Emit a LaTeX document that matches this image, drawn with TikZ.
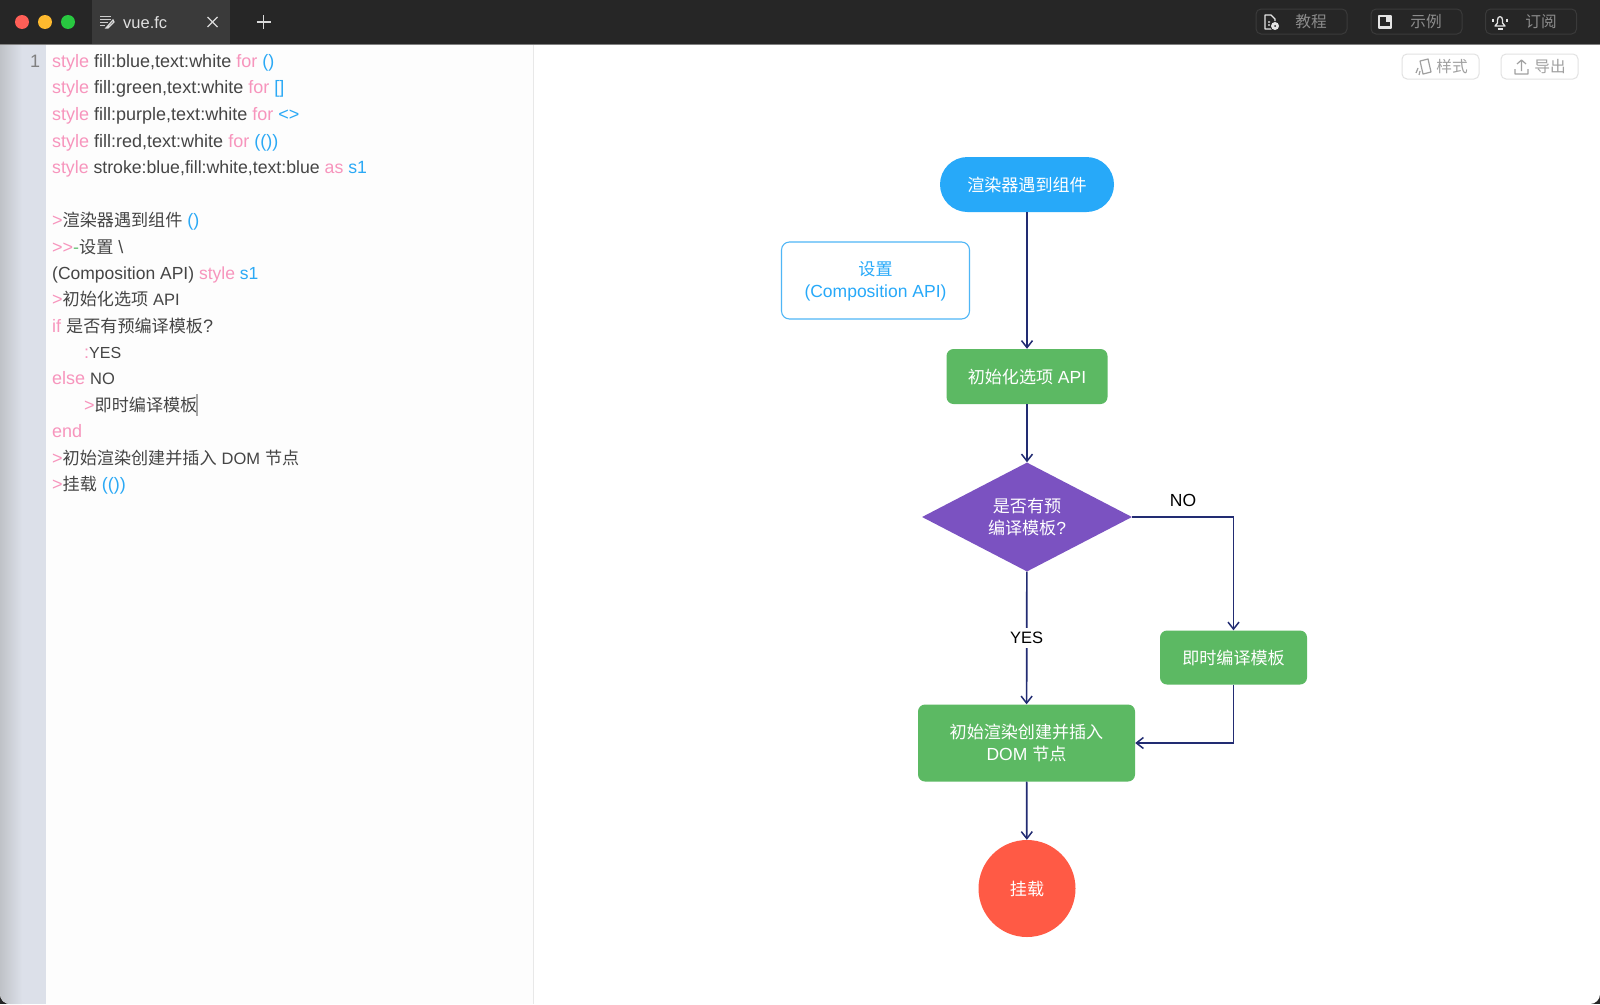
\documentclass[tikz,border=0pt]{standalone}
\usepackage{fontspec}
\setmainfont{Liberation Sans}
\newfontfamily\cjk{Noto Sans CJK SC}[Scale=0.95]
\newfontfamily\cjkf{Noto Sans CJK SC}[Scale=0.975]
\usetikzlibrary{arrows.meta,shapes.geometric}
\definecolor{kw}{HTML}{F795BD}
\definecolor{bl}{HTML}{2BA9F5}
\definecolor{tx}{HTML}{454545}
\definecolor{gn}{HTML}{6CC27A}
\definecolor{flowblue}{HTML}{27A9F9}
\definecolor{setupline}{HTML}{4FB6F6}
\definecolor{flowgreen}{HTML}{5CB963}
\definecolor{flowpurple}{HTML}{7B52C1}
\definecolor{flowred}{HTML}{FF5A45}
\definecolor{flowline}{HTML}{222C72}
\definecolor{barbg}{HTML}{262626}
\definecolor{tabbg}{HTML}{3A3A3A}
\definecolor{btntx}{HTML}{8C8C8C}
\definecolor{btnln}{HTML}{3A3A3A}
\definecolor{lightbtn}{HTML}{E2E2E2}
\definecolor{lighttx}{HTML}{A0A0A0}
\definecolor{gutterL}{HTML}{BFC2C7}
\definecolor{gutterR}{HTML}{DCE0E9}
\definecolor{editorbg}{HTML}{FDFDFD}
\newcommand{\kw}[1]{\textcolor{kw}{#1}}
\newcommand{\bl}[1]{\textcolor{bl}{#1}}
\newcommand{\zh}[1]{{\cjk #1}}
\newcommand{\zf}[1]{{\cjkf #1}}
\newcommand{\sm}[1]{{\fontsize{16.5}{22}\selectfont #1}}
\newcommand{\dn}[1]{\raisebox{-1pt}[\height][\depth]{#1}}
\newcommand{\dnn}[1]{\raisebox{-0.2pt}[\height][\depth]{#1}}
\tikzset{
 x=1pt,y=-1pt,
 codeline/.style={anchor=base west,inner sep=0pt,text=tx,font=\fontsize{18}{22}\selectfont},
 flowtext/.style={align=center,inner sep=0pt,text=white,font=\fontsize{17.5}{21.5}\selectfont},
 boxgreen/.style={flowtext,fill=flowgreen,rounded corners=7pt},
 flowarrow/.style={draw=flowline,line width=1.7pt,-{Straight Barb[length=7pt,width=11pt,line width=1.5pt]}},
 flowlabel/.style={inner sep=0pt,text=black,font=\fontsize{17.5}{21}\selectfont},
 darkbtn/.style={draw=btnln,line width=1pt,rounded corners=5pt,minimum width=91pt,minimum height=25pt,inner sep=0pt},
 lightbtnbox/.style={draw=lightbtn,line width=1pt,fill=white,rounded corners=5pt,minimum width=77pt,minimum height=25pt,inner sep=0pt},
 darktext/.style={inner sep=0pt,text=btntx,font=\fontsize{16.5}{20}\selectfont},
 lighttext/.style={inner sep=0pt,text=lighttx,font=\fontsize{16.5}{20}\selectfont},
 icondark/.style={draw=white!90!black,line width=1.3pt,line join=round},
 iconlight/.style={draw=lighttx,line width=1.2pt,line join=round},
}
\begin{document}
\begin{tikzpicture}
\useasboundingbox (0,0) rectangle (1600,1004);
\fill[black!85] (0,0) rectangle (1600,1004);
\begin{scope}
\clip[rounded corners=10pt] (0,0) rectangle (1600,1004);
\fill[white] (0,44) rectangle (1600,1004);
\fill[editorbg] (46,44) rectangle (533,1004);
\shade[left color=gutterL,right color=gutterR] (0,44) rectangle (22,1004);
\fill[gutterR] (22,44) rectangle (46,1004);
\draw[black!9,line width=1pt] (533.5,44) -- (533.5,1004);
\fill[barbg] (0,0) rectangle (1600,44);
\fill[tabbg] (92,0) rectangle (230,44);
\fill[black!50] (0,43.5) rectangle (1600,44.5);
\end{scope}
% traffic lights
\definecolor{tlr}{HTML}{FF5F57}\definecolor{tly}{HTML}{FDB92E}\definecolor{tlg}{HTML}{28C840}
\fill[tlr] (22,22) circle[radius=7];
\fill[tly] (45,22) circle[radius=7];
\fill[tlg] (68,22) circle[radius=7];
% tab
\draw[black!20,line width=1pt] (100,16)--(111,16) (100,19)--(111,19) (100,22)--(108,22) (100,25)--(105,25);
\draw[black!15,line width=1.2pt] (106,28)--(113,20)--(114,22)--(108,28)--cycle;
\node[inner sep=0pt,text=black!12,anchor=base west,font=\fontsize{16.5}{20}\selectfont] (tabname) at (123,28) {vue.fc};
\draw[black!15,line width=1.3pt] (207.5,17)--(217.5,27) (217.5,17)--(207.5,27);
\draw[black!15,line width=1.3pt] (256.5,22)--(270.5,22) (263.5,15)--(263.5,29);
% top-right buttons
\node[darkbtn] (b1) at (1301.5,21.5) {};
\node[darkbtn] (b2) at (1416.5,21.5) {};
\node[darkbtn] (b3) at (1531,21.5) {};
\node[darktext] (b1t) at (1311,21.5) {\zh{教程}};
\node[darktext] (b2t) at (1426,21.5) {\zh{示例}};
\node[darktext] (b3t) at (1541,21.5) {\zh{订阅}};
\draw[icondark] (1265,15)--(1271,15)--(1275,19)--(1275,29)--(1265,29)--cycle (1268,22)--(1270,22) (1268,25)--(1270,25);
\fill[barbg] (1275,26) circle[radius=5];
\fill[white!90!black] (1275,26) circle[radius=4];
\fill[barbg] (1275,26) circle[radius=1];
\draw[icondark] (1379,16) rectangle (1391,28);
\fill[white!90!black] (1379,25.5) rectangle (1391,28);
\fill[white!90!black] (1386,16) rectangle (1389.5,22);
\draw[icondark] (1495,26)--(1497.5,23)--(1497.5,20) .. controls (1497.5,15.5) and (1502.5,15.5) .. (1502.5,20)--(1502.5,23)--(1505,26)--cycle;
\draw[icondark] (1497.5,29)--(1502.5,29) (1493,18.5)--(1493,22) (1507,18.5)--(1507,22);
% preview buttons
\node[lightbtnbox] (b4) at (1440.5,66.5) {};
\node[lightbtnbox] (b5) at (1539.5,66.5) {};
\node[lighttext] (b4t) at (1452,67) {\zh{样式}};
\node[lighttext] (b5t) at (1550,67) {\zh{导出}};
\draw[iconlight] (1420,61)--(1428,59)--(1431,72)--(1423,74)--cycle (1416,73)--(1418,68) (1419,75)--(1420,71);
\draw[iconlight] (1515,69)--(1515,74)--(1528,74)--(1528,69) (1521.5,71)--(1521.5,60) (1517,64)--(1521.5,60)--(1526,64);
% editor
\node[codeline,text=black!50] (ln) at (30,67) {1};
\node[codeline] (l1) at (52,67) {\kw{style} fill:blue,text:white \kw{for} \bl{()}};
\node[codeline] (l2) at (52,93.4) {\kw{style} fill:green,text:white \kw{for} \bl{[]}};
\node[codeline] (l3) at (52,120.9) {\kw{style} fill:purple,text:white \kw{for} \bl{<>}};
\node[codeline] (l4) at (52,147.3) {\kw{style} fill:red,text:white \kw{for} \bl{(())}};
\node[codeline,font=\fontsize{17.7}{22}\selectfont] (l5) at (52,173.8) {\kw{style} stroke:blue,fill:white,text:blue \kw{as} \bl{s1}};
\node[codeline] (l7) at (52,226) {\kw{>}\zh{渲染器遇到组件} \bl{()}};
\node[codeline] (l8) at (52,253.4) {\kw{>{}>}\textcolor{gn}{-}\zh{设置} \textbackslash};
\node[codeline,font=\fontsize{17.5}{22}\selectfont] (l9) at (52,279.8) {(Composition API) \kw{style} \bl{s1}};
\node[codeline] (l10) at (52,305.3) {\kw{>}\zh{初始化选项} \sm{API}};
\node[codeline] (l11) at (52,332.7) {\kw{if} \zh{是否有预编译模板}?};
\node[codeline] (l12) at (84,358.2) {\kw{:}{\fontsize{16}{22}\selectfont YES}};
\node[codeline] (l13) at (52,384.6) {\kw{else} \sm{NO}};
\node[codeline] (l14) at (84,411) {\kw{>}\zh{即时编译模板}};
\node[codeline] (l15) at (52,437.5) {\kw{end}};
\node[codeline] (l16) at (52,464.9) {\kw{>}\zh{初始渲染创建并插入} \sm{DOM} \zh{节点}};
\node[codeline] (l17) at (52,490.4) {\kw{>}\zh{挂载} \bl{(())}};
\draw[black!35,line width=1.5pt] (197,394)--(197,416);
% flowchart
\node[flowtext,fill=flowblue,rounded corners=27.5pt,minimum width=174pt,minimum height=55pt] (start) at (1027,184.5) {\dnn{\zf{渲染器遇到组件}}};
\node[flowtext,draw=setupline,line width=1.1pt,fill=white,text=flowblue,rounded corners=8pt,minimum width=188pt,minimum height=77pt] (setup) at (875.5,280.5) {\dn{\zf{设置}}\\\dn{(Composition API)}};
\node[boxgreen,minimum width=161pt,minimum height=55pt] (init) at (1027,376.5) {\dnn{\zf{初始化选项} API}};
\node[diamond,aspect=1.93,flowtext,fill=flowpurple,minimum width=210pt,minimum height=109pt] (check) at (1027,517) {\zf{是否有预}\\\zf{编译模板}?};
\node[boxgreen,minimum width=147pt,minimum height=54pt] (instant) at (1233.5,657.5) {\dnn{\zf{即时编译模板}}};
\node[boxgreen,minimum width=217pt,minimum height=77pt] (render) at (1026.5,743) {\dnn{\zf{初始渲染创建并插入}}\\DOM \zf{节点}};
\node[circle,flowtext,fill=flowred,minimum size=97pt] (mount) at (1027,888.5) {\dnn{\zf{挂载}}};
\draw[flowarrow] (start) -- (init);
\draw[flowarrow] (init) -- (check);
\draw[flowarrow] (check) -- node[flowlabel,fill=white,inner ysep=4pt,inner xsep=1pt,font=\fontsize{16.5}{21}\selectfont] (yes) {YES} (render);
\draw[flowarrow] (check.east) -| (instant.north);
\node[flowlabel] (no) at (1183,500.5) {NO};
\draw[flowarrow] (instant.south) |- (render.east);
\draw[flowarrow] (render) -- (mount);
\end{tikzpicture}
\end{document}
